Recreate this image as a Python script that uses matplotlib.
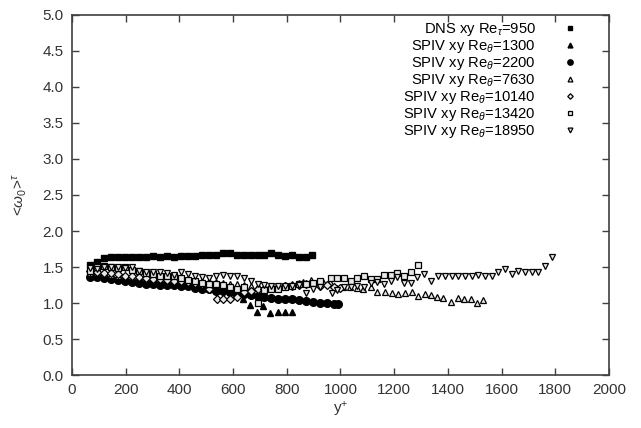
import matplotlib
matplotlib.use("Agg")
import matplotlib.pyplot as plt

plt.rcParams['font.family'] = ['Liberation Sans', 'DejaVu Sans']
plt.rcParams['mathtext.fontset'] = 'custom'
plt.rcParams['mathtext.rm'] = 'Liberation Sans'
plt.rcParams['mathtext.it'] = 'Liberation Sans:italic'

# DNS Re_tau=950
dns_y = [67, 93, 119, 145, 171, 197, 223, 249, 275, 301, 327, 353, 379, 405, 431, 457, 483,
         509, 535, 561, 587, 613, 639, 665, 691, 717, 743, 769, 795, 821, 847, 873, 893]
dns_w = [1.53, 1.57, 1.62, 1.64, 1.64, 1.64, 1.64, 1.64, 1.64, 1.65, 1.64, 1.65, 1.64, 1.65, 1.65, 1.65, 1.66,
         1.66, 1.67, 1.70, 1.69, 1.66, 1.66, 1.66, 1.66, 1.67, 1.69, 1.66, 1.65, 1.66, 1.64, 1.64, 1.67]

# SPIV Re_theta=1300
s1300_y = [67, 93, 119, 145, 171, 197, 223, 249, 275, 301, 327, 353, 379, 405, 431, 457, 483,
           509, 535, 561, 587, 611, 637, 663, 690, 712, 737, 767, 793, 819]
s1300_w = [1.40, 1.40, 1.38, 1.37, 1.36, 1.35, 1.34, 1.33, 1.33, 1.32, 1.31, 1.30, 1.30, 1.29, 1.28, 1.27, 1.26,
           1.25, 1.22, 1.18, 1.15, 1.12, 1.05, 0.97, 0.88, 0.96, 0.86, 0.87, 0.87, 0.87]

# SPIV Re_theta=2200
s2200_y = [67, 93, 119, 145, 171, 197, 223, 249, 275, 301, 327, 353, 379, 405, 431, 457, 483,
           509, 535, 561, 587, 613, 639, 665, 691, 717, 743, 769, 795, 821, 847, 873, 899,
           925, 951, 977, 990]
s2200_w = [1.36, 1.36, 1.35, 1.33, 1.32, 1.31, 1.29, 1.28, 1.27, 1.26, 1.25, 1.25, 1.25, 1.24, 1.23, 1.21, 1.20,
           1.19, 1.17, 1.16, 1.15, 1.14, 1.13, 1.11, 1.10, 1.09, 1.07, 1.06, 1.06, 1.05, 1.04, 1.03, 1.01,
           1.00, 1.00, 0.98, 0.98]

# SPIV Re_theta=7630
s7630_y = [67, 93, 119, 145, 171, 197, 223, 249, 275, 301, 327, 353, 379, 405, 431, 457, 483,
           509, 535, 561, 587, 613, 639, 665, 691, 717, 743, 769, 795, 821, 847, 860, 890,
           912, 935, 961, 987, 1010, 1035, 1060, 1084, 1113, 1136, 1166, 1192, 1214, 1240, 1266,
           1289, 1314, 1337, 1359, 1382, 1411, 1437, 1460, 1486, 1508, 1531]
s7630_w = [1.42, 1.41, 1.40, 1.39, 1.38, 1.37, 1.36, 1.36, 1.35, 1.35, 1.34, 1.34, 1.33, 1.33, 1.32, 1.31, 1.31,
           1.30, 1.29, 1.28, 1.27, 1.26, 1.25, 1.24, 1.23, 1.22, 1.22, 1.23, 1.25, 1.27, 1.28, 1.29, 1.32,
           1.28, 1.29, 1.29, 1.21, 1.22, 1.22, 1.21, 1.20, 1.22, 1.15, 1.15, 1.14, 1.13, 1.14, 1.15,
           1.10, 1.13, 1.11, 1.08, 1.07, 1.02, 1.07, 1.05, 1.05, 1.00, 1.04]

# SPIV Re_theta=10140
s10140_y = [67, 93, 119, 145, 171, 197, 223, 249, 275, 301, 327, 353, 379, 405, 431, 457, 483,
            509, 540, 563, 588, 615, 640, 665, 691, 717, 743, 769, 795, 821, 847, 873, 899,
            925, 951, 977, 1000]
s10140_w = [1.45, 1.43, 1.42, 1.41, 1.40, 1.38, 1.37, 1.36, 1.35, 1.34, 1.33, 1.32, 1.31, 1.30, 1.29, 1.28, 1.26,
            1.20, 1.05, 1.05, 1.06, 1.08, 1.15, 1.17, 1.19, 1.20, 1.22, 1.22, 1.23, 1.24, 1.25, 1.26, 1.25,
            1.24, 1.25, 1.22, 1.21]

# SPIV Re_theta=13420
s13420_y = [67, 93, 119, 145, 171, 197, 223, 249, 275, 301, 327, 353, 379, 405, 431, 457, 483,
            509, 535, 561, 587, 613, 639, 691, 717, 743, 769, 795, 821, 847, 873, 899, 925,
            964, 987, 1013, 1039, 1062, 1088, 1113, 1136, 1162, 1188, 1211, 1237, 1262, 1289]
s13420_w = [1.45, 1.50, 1.52, 1.50, 1.48, 1.50, 1.46, 1.44, 1.42, 1.40, 1.38, 1.38, 1.37, 1.35, 1.32, 1.30, 1.28,
            1.27, 1.26, 1.25, 1.22, 1.20, 1.22, 1.00, 1.18, 1.20, 1.20, 1.22, 1.24, 1.26, 1.27, 1.28, 1.30,
            1.35, 1.35, 1.35, 1.31, 1.35, 1.37, 1.33, 1.33, 1.39, 1.39, 1.41, 1.37, 1.43, 1.53]

# SPIV Re_theta=18950
s18950_y = [67, 93, 119, 145, 171, 197, 223, 249, 275, 301, 327, 353, 379, 405, 431, 457, 483,
            509, 535, 561, 587, 613, 639, 665, 691, 717, 743, 769, 795, 821, 847, 873, 899,
            925, 968, 987, 1013, 1039, 1062, 1088, 1113, 1136, 1162, 1188, 1211, 1237, 1262, 1285,
            1311, 1337, 1363, 1389, 1415, 1437, 1464, 1490, 1512, 1538, 1564, 1587, 1613, 1639,
            1661, 1687, 1713, 1736, 1762, 1788]
s18950_w = [1.48, 1.47, 1.50, 1.50, 1.50, 1.49, 1.50, 1.45, 1.43, 1.43, 1.43, 1.41, 1.39, 1.43, 1.40, 1.38, 1.36,
            1.35, 1.38, 1.39, 1.37, 1.38, 1.35, 1.31, 1.27, 1.25, 1.24, 1.24, 1.24, 1.24, 1.25, 1.14, 1.20,
            1.22, 1.14, 1.18, 1.22, 1.22, 1.24, 1.22, 1.28, 1.29, 1.26, 1.30, 1.36, 1.28, 1.28, 1.36,
            1.40, 1.31, 1.38, 1.38, 1.38, 1.37, 1.37, 1.38, 1.39, 1.38, 1.38, 1.43, 1.47, 1.40,
            1.44, 1.43, 1.43, 1.43, 1.51, 1.64]

labels = [r'DNS xy Re$_{\tau}$=950', r'SPIV xy Re$_{\theta}$=1300', r'SPIV xy Re$_{\theta}$=2200',
          r'SPIV xy Re$_{\theta}$=7630', r'SPIV xy Re$_{\theta}$=10140', r'SPIV xy Re$_{\theta}$=13420',
          r'SPIV xy Re$_{\theta}$=18950']

fig = plt.figure(figsize=(6.41, 4.28), dpi=100)
ax = fig.add_axes([0.1123, 0.1238, 0.8377, 0.8412])

ax.plot(dns_y, dns_w, 's', ms=5, color='black', label=labels[0])
ax.plot(s1300_y, s1300_w, '^', ms=5, color='black', label=labels[1])
ax.plot(s2200_y, s2200_w, 'o', ms=5.5, color='black', label=labels[2])
hollow = dict(ms=5, mfc='#e8e8e8', mec='black', mew=0.9, linestyle='none')
ax.plot(s7630_y, s7630_w, '^', label=labels[3], **hollow)
ax.plot(s10140_y, s10140_w, 'D', label=labels[4], **dict(hollow, ms=4))
ax.plot(s13420_y, s13420_w, 's', label=labels[5], **hollow)
ax.plot(s18950_y, s18950_w, 'v', label=labels[6], **hollow)

ax.set_xlim(0, 2000)
ax.set_ylim(0, 5)
ax.set_xticks(range(0, 2001, 200))
ax.set_yticks([i * 0.5 for i in range(11)])
ax.set_yticklabels([f'{i * 0.5:.1f}' for i in range(11)])
ax.tick_params(direction='in', top=True, right=True, length=5, width=1, color='#404040',
               labelcolor='#333333', labelsize=11, pad=6)
for s in ax.spines.values():
    s.set_color('#404040')
    s.set_linewidth(1.2)

ax.set_xlabel(r'y$^{+}$', fontsize=11, color='#333333', labelpad=2)
ax.set_ylabel(r'<$\omega_0$>$^{\tau}$', fontsize=11, color='#333333', labelpad=10)

ax.legend(loc='upper right', frameon=False, markerfirst=False, fontsize=10.6,
          labelspacing=0.0, handletextpad=1.8, handlelength=1.0, markerscale=0.7,
          bbox_to_anchor=(0.957, 1.007), borderaxespad=0.2)

fig.savefig('out.png', dpi=100)
